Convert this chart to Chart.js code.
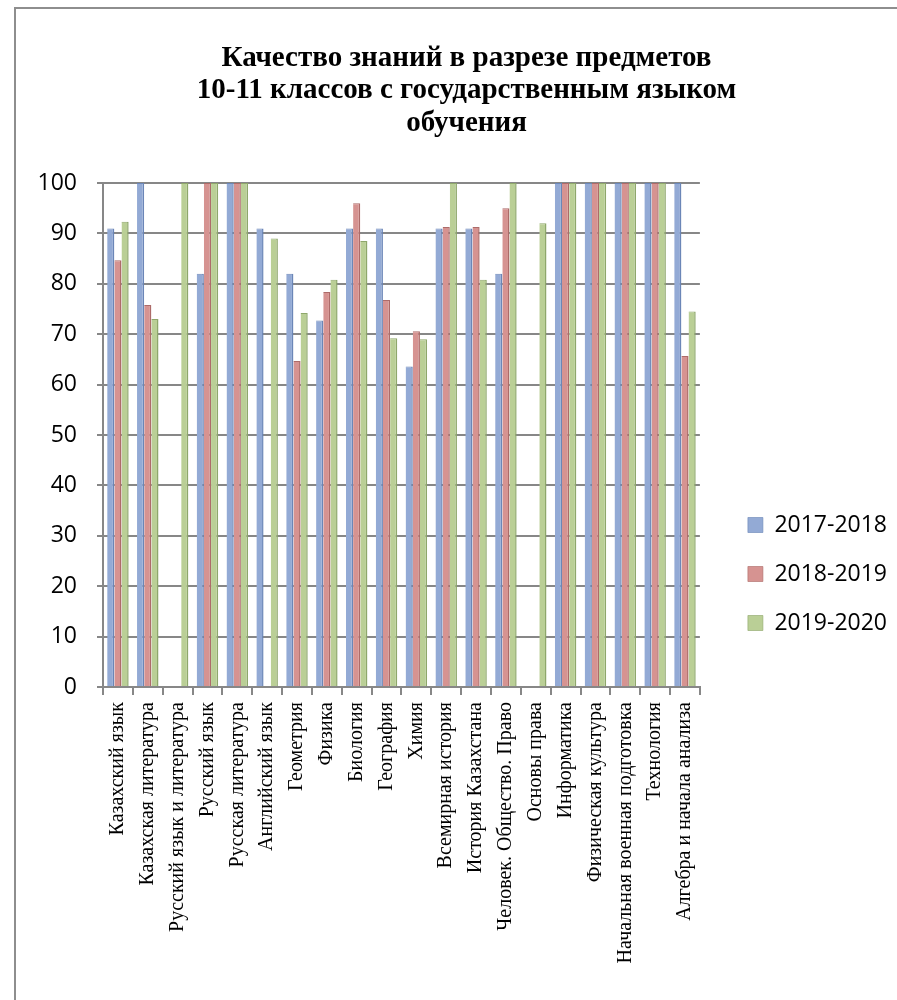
<!DOCTYPE html>
<html>
<head>
<meta charset="utf-8">
<script src="https://cdn.jsdelivr.net/npm/chart.js@4.4.1/dist/chart.umd.min.js"></script>
<style>
  body { margin: 0; background: #fff; overflow: hidden; }
  #wrap { position: relative; width: 897px; height: 1000px; }
  #frame { position: absolute; left: 14px; top: 7px; right: -10px; bottom: -10px;
           border-top: 2px solid #8e8e8e; border-left: 2px solid #8e8e8e; }
  #chart { position: absolute; left: 0; top: 0; }
</style>
</head>
<body>
<div id="wrap">
  <div id="frame"></div>
  <canvas id="chart" width="897" height="1000"></canvas>
</div>
<script>
const subjects = [
  "Казахский язык", "Казахская литература", "Русский язык и литература",
  "Русский язык", "Русская литература", "Английский язык", "Геометрия",
  "Физика", "Биология", "География", "Химия", "Всемирная история",
  "История Казахстана", "Человек. Общество. Право", "Основы права",
  "Информатика", "Физическая культура", "Начальная военная подготовка",
  "Технология", "Алгебра и начала анализа"
];
const years = ["2017-2018", "2018-2019", "2019-2020"];
const y2017 = [91, 100, null, 82, 100, 91, 82, 72.7, 91, 91, 63.6, 91, 91, 82, null, 100, 100, 100, 100, 100];
const y2018 = [84.7, 75.8, null, 100, 100, null, 64.7, 78.4, 96, 76.8, 70.6, 91.3, 91.3, 95, null, 100, 100, 100, 100, 65.7];
const y2019 = [92.3, 73, 100, 100, 100, 89, 74.2, 80.8, 88.5, 69.2, 69, 100, 80.8, 100, 92, 100, 100, 100, 100, 74.5];
const yTicks = { min: 0, max: 100, step: 10 };

const titleLines = [
  "Качество знаний в разрезе предметов",
  "10-11 классов с государственным языком",
  "обучения"
];

const fills = ["#93aad5", "#d69391", "#bacf96"];
const edges = ["#6b86b7", "#ad6b69", "#8ea76b"];
const gridGray = "#878787";
const serif = "'Liberation Serif', 'Times New Roman', 'DejaVu Serif', serif";

// empty box between plot and legend, so the plot ends where the original does
const legendGap = {
  id: "legendGap",
  beforeInit(chart) {
    Chart.layouts.addBox(chart, {
      position: "right", weight: 500, fullSize: false,
      options: { display: false },
      top: 0, left: 0, right: 0, bottom: 0, width: 0, height: 0,
      isHorizontal() { return false; },
      update(maxW, maxH) { this.width = 22; this.height = maxH; },
      draw() {}
    });
  }
};

const ctx = document.getElementById("chart").getContext("2d");
new Chart(ctx, {
  type: "bar",
  data: {
    labels: subjects,
    datasets: [y2017, y2018, y2019].map((d, i) => ({
      label: years[i],
      data: d,
      backgroundColor: fills[i],
      borderColor: edges[i],
      borderWidth: { top: 1, right: 1.5, left: 0, bottom: 0 },
      borderSkipped: "start",
      categoryPercentage: 0.72,
      barPercentage: 1.0
    }))
  },
  options: {
    responsive: false,
    animation: false,
    layout: { padding: { left: 36, right: 0, top: 0, bottom: 0 } },
    plugins: {
      title: {
        display: true,
        text: titleLines,
        color: "#000",
        font: { family: serif, size: 29, weight: "bold", lineHeight: 1.12 },
        padding: { top: 42, bottom: 43.6 }
      },
      legend: {
        position: "right",
        align: "start",
        title: { display: true, text: " ", font: { size: 1, lineHeight: 1 }, padding: { top: 486.5, bottom: 0 } },
        labels: {
          color: "#000",
          font: { family: "Open Sans", size: 23 },
          boxWidth: 15,
          boxHeight: 15,
          padding: 26
        }
      },
      tooltip: { enabled: false }
    },
    scales: {
      x: {
        grid: { display: true, drawOnChartArea: false, drawTicks: true, tickLength: 8, color: gridGray, lineWidth: 2, offset: true },
        border: { display: true, color: gridGray, width: 2 },
        ticks: {
          autoSkip: false, maxRotation: 90, minRotation: 90, padding: 7,
          color: "#000", font: { family: serif, size: 20 }
        },
        afterFit(scale) { scale.height = 313; }
      },
      y: {
        min: yTicks.min, max: yTicks.max,
        grid: { color: gridGray, lineWidth: 2, tickLength: 6 },
        border: { display: true, color: gridGray, width: 2 },
        ticks: { stepSize: yTicks.step, padding: 20, color: "#000", font: { family: "Open Sans", size: 23 } },
        afterFit(scale) { scale.width = 67; }
      }
    }
  },
  plugins: [legendGap]
});
</script>
</body>
</html>
